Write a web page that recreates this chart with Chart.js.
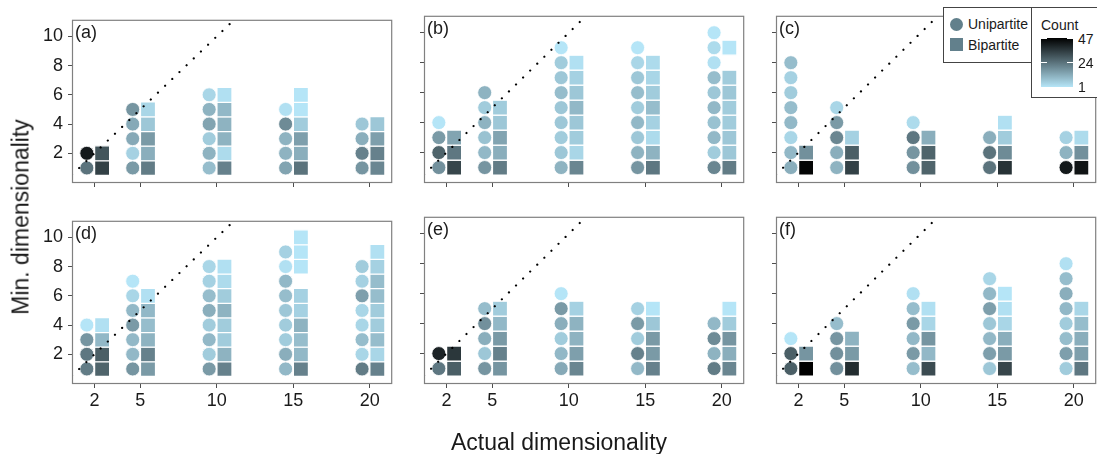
<!DOCTYPE html>
<html>
<head>
<meta charset="utf-8">
<script src="https://cdn.jsdelivr.net/npm/chart.js@4.4.1/dist/chart.umd.min.js"></script>
<style>
body { margin: 0; width: 1097px; height: 454px; overflow: hidden; background: #fff; position: relative;
       font-family: "Liberation Sans", Arial, sans-serif; color: #1a1a1a; }
canvas { position: absolute; }
.t { position: absolute; white-space: nowrap; line-height: 1; }
.box { position: absolute; border: 1px solid #444; background: #fff; }
</style>
</head>
<body>
<script>
var dims = [2, 5, 10, 15, 20];
var xTicks = [2, 5, 10, 15, 20];
var yTicks = [2, 4, 6, 8, 10];
var panelNames = ['(a)', '(b)', '(c)', '(d)', '(e)', '(f)'];
var countMin = 1, countMax = 47;

// network counts, one list per actual dimensionality (2,5,10,15,20)
// entry k is min. dimensionality k+1, null = nothing there
var uniA = [[24, 42], [16, 5, 13, 13, 17], [9, 11, 6, 14, 11, 4], [14, 11, 11, 19, 2], [17, 21, 12, 7]];
var biA  = [[34, 30], [22, 12, 16, 7, 4], [21, 3, 11, 11, 10, 2], [24, 12, 15, 6, 1, 1], [20, 21, 15, 7]];
var uniB = [[18, 27, 16, 1], [17, 10, 8, 11, 6, 11], [11, 7, 6, 7, 7, 9, 7, 6, 1], [17, 11, 7, 10, 6, 9, 7, 4, 1], [20, 6, 10, 8, 10, 7, 9, 2, 3, 1]];
var biB  = [[33, 23, 14], [22, 12, 14, 7, 6], [20, 4, 6, 7, 10, 7, 5, 2], [23, 11, 3, 5, 9, 6, 4, 3], [22, 7, 7, 6, 6, 7, 6, null, 1]];
var uniC = [[12, 10, 4, 10, 9, 6, 5, 9], [11, 12, 20, 16, 4], [18, 17, 23, 3], [24, 24, 12], [42, 11, 5]];
var biC  = [[46, 18], [34, 28, 5], [27, 27, 12], [37, 19, 6, 2], [43, 18, 3]];
var uniD = [[22, 23, 17, 1], [17, 10, 10, 16, 10, 4, 1], [16, 6, 10, 6, 12, 9, 5, 4], [10, 12, 6, 6, 7, 9, 10, 2, 5], [22, 4, 9, 4, 4, 15, 5, 6]];
var biD  = [[27, 28, 10, 2], [16, 21, 11, 9, 10, 2], [21, 11, 6, 6, 11, 6, 3, 2], [21, 10, 9, 11, 5, 5, null, 1, 1, 1], [21, 4, 9, 6, 6, 9, 9, 5, 2]];
var uniE = [[23, 40], [17, 7, 12, 18, 9], [13, 10, 6, 12, 16, 1], [10, 21, 6, 16, 5], [22, 11, 19, 10]];
var biE  = [[28, 36], [17, 21, 16, 10, 6], [20, 15, 11, 11, 5], [21, 16, 16, 7, 1], [20, 12, 17, 6, 1]];
var uniF = [[28, 28, 1], [18, 18, 17, 9], [9, 16, 10, 16, 9, 2], [7, 15, 10, 7, 15, 10, 4], [6, 15, 9, 6, 10, 12, 9, 2]];
var biF  = [[47, 17], [38, 16, 11], [32, 10, 17, 4, 2], [33, 16, 12, 4, 2, 1], [23, 15, 12, 9, 4]];

var X_MIN = 0.53, X_MAX = 21.47, Y_MIN = -0.03, Y_MAX = 11.13;
var colLeft = [72, 424, 776], rowTop = [7, 208];
var PW = 329, PH = 176, AXW = 50, AXH = 30, PAD = 3;

Chart.defaults.font.family = '"Liberation Sans", Arial, sans-serif';

var lowCol = [181, 229, 247], highCol = [0, 0, 0];
function countColour(n) {
	var t = (n - countMin) / (countMax - countMin);
	var c = lowCol.map(function (v, i) { return Math.round(v + (highCol[i] - v) * t); });
	return 'rgb(' + c.join(',') + ')';
}

// dodge: circles left of the tick, squares right of it
function points(list, shift) {
	var pts = [], cols = [];
	list.forEach(function (col, i) {
		col.forEach(function (n, k) {
			if (n === null) return;
			pts.push({x: dims[i] + shift, y: k + 1});
			cols.push(countColour(n));
		});
	});
	return {pts: pts, cols: cols};
}

function makePanel(idx, uni, bi) {
	var col = idx % 3, row = Math.floor(idx / 3);
	var cv = document.createElement('canvas');
	cv.width = AXW + PW + PAD;
	cv.height = PAD + PH + AXH;
	cv.style.left = (colLeft[col] - AXW) + 'px';
	cv.style.top = (rowTop[row] - PAD) + 'px';
	document.body.appendChild(cv);

	var c = points(uni, -0.5), s = points(bi, 0.5);

	var frame = {
		id: 'frame' + idx,
		afterDraw: function (chart) {
			var a = chart.chartArea, ctx = chart.ctx;
			ctx.save();
			ctx.strokeStyle = '#808080';
			ctx.lineWidth = 1.2;
			ctx.strokeRect(a.left + 0.5, a.top + 0.5, a.right - a.left - 1, a.bottom - a.top - 1);
			ctx.fillStyle = '#1a1a1a';
			ctx.font = '18px "Liberation Sans", Arial, sans-serif';
			ctx.textBaseline = 'middle';
			ctx.fillText(panelNames[idx], a.left + 3, a.top + 13);
			ctx.restore();
		}
	};

	new Chart(cv.getContext('2d'), {
		type: 'scatter',
		data: {
			datasets: [{
				// 1:1 line
				data: [{x: X_MIN, y: X_MIN}, {x: Y_MAX, y: Y_MAX}],
				showLine: true,
				borderColor: '#000',
				borderWidth: 2.2,
				borderDash: [0.01, 9.9],
				borderCapStyle: 'round',
				pointRadius: 0,
				order: 0
			}, {
				label: 'Bipartite',
				data: s.pts,
				backgroundColor: s.cols,
				pointStyle: 'rect',
				pointRadius: 10.6,
				borderColor: '#fff',
				borderWidth: 1.2,
				order: 1
			}, {
				label: 'Unipartite',
				data: c.pts,
				backgroundColor: c.cols,
				pointStyle: 'circle',
				pointRadius: 7,
				borderColor: '#fff',
				borderWidth: 0.8,
				order: 1
			}]
		},
		options: {
			responsive: false,
			animation: false,
			events: [],
			layout: {padding: {top: PAD, right: PAD, left: 0, bottom: 0}},
			plugins: {legend: {display: false}, tooltip: {enabled: false}},
			scales: {
				x: {
					type: 'linear', min: X_MIN, max: X_MAX,
					afterBuildTicks: function (sc) { sc.ticks = xTicks.map(function (v) { return {value: v}; }); },
					afterFit: function (sc) { sc.height = AXH; },
					border: {display: false},
					grid: {drawOnChartArea: false, tickLength: 4, color: '#4d4d4d'},
					ticks: {display: row === 1, padding: 2, color: '#1a1a1a', font: {size: 18}}
				},
				y: {
					type: 'linear', min: Y_MIN, max: Y_MAX,
					afterBuildTicks: function (sc) { sc.ticks = yTicks.map(function (v) { return {value: v}; }); },
					afterFit: function (sc) { sc.width = AXW; },
					border: {display: false},
					grid: {drawOnChartArea: false, tickLength: 4, color: '#4d4d4d'},
					ticks: {display: col === 0, padding: 5, color: '#1a1a1a', font: {size: 18}}
				}
			}
		},
		plugins: [frame]
	});
}

makePanel(0, uniA, biA);
makePanel(1, uniB, biB);
makePanel(2, uniC, biC);
makePanel(3, uniD, biD);
makePanel(4, uniE, biE);
makePanel(5, uniF, biF);
</script>

<div class="t" style="left:21px;top:217px;font-size:23px;transform:translate(-50%,-50%) rotate(-90deg);">Min. dimensionality</div>
<div class="t" style="left:559px;top:442px;font-size:23px;transform:translate(-50%,-50%);">Actual dimensionality</div>

<!-- shape legend -->
<div class="box" style="left:943px;top:7px;width:88px;height:54px;"></div>
<div style="position:absolute;left:949.5px;top:17.5px;width:13px;height:13px;border-radius:50%;background:#62808c;"></div>
<div style="position:absolute;left:949.5px;top:38px;width:13px;height:13px;background:#62808c;"></div>
<div class="t" style="left:968px;top:24px;font-size:14px;transform:translateY(-50%);">Unipartite</div>
<div class="t" style="left:968px;top:44.5px;font-size:14px;transform:translateY(-50%);">Bipartite</div>

<!-- colour bar -->
<div class="box" style="left:1031px;top:7px;width:80px;height:89px;"></div>
<div class="t" style="left:1041px;top:25px;font-size:14px;transform:translateY(-50%);">Count</div>
<div style="position:absolute;left:1041px;top:38px;width:32px;height:49px;background:linear-gradient(to top, rgb(181,229,247), rgb(0,0,0));"></div>
<div style="position:absolute;left:1041px;top:38px;width:6px;height:1px;background:#fff;"></div>
<div style="position:absolute;left:1067px;top:38px;width:6px;height:1px;background:#fff;"></div>
<div style="position:absolute;left:1041px;top:62px;width:6px;height:1px;background:#fff;"></div>
<div style="position:absolute;left:1067px;top:62px;width:6px;height:1px;background:#fff;"></div>
<div class="t" style="left:1078px;top:39px;font-size:14px;transform:translateY(-50%);">47</div>
<div class="t" style="left:1078px;top:63px;font-size:14px;transform:translateY(-50%);">24</div>
<div class="t" style="left:1078px;top:87px;font-size:14px;transform:translateY(-50%);">1</div>
</body>
</html>
